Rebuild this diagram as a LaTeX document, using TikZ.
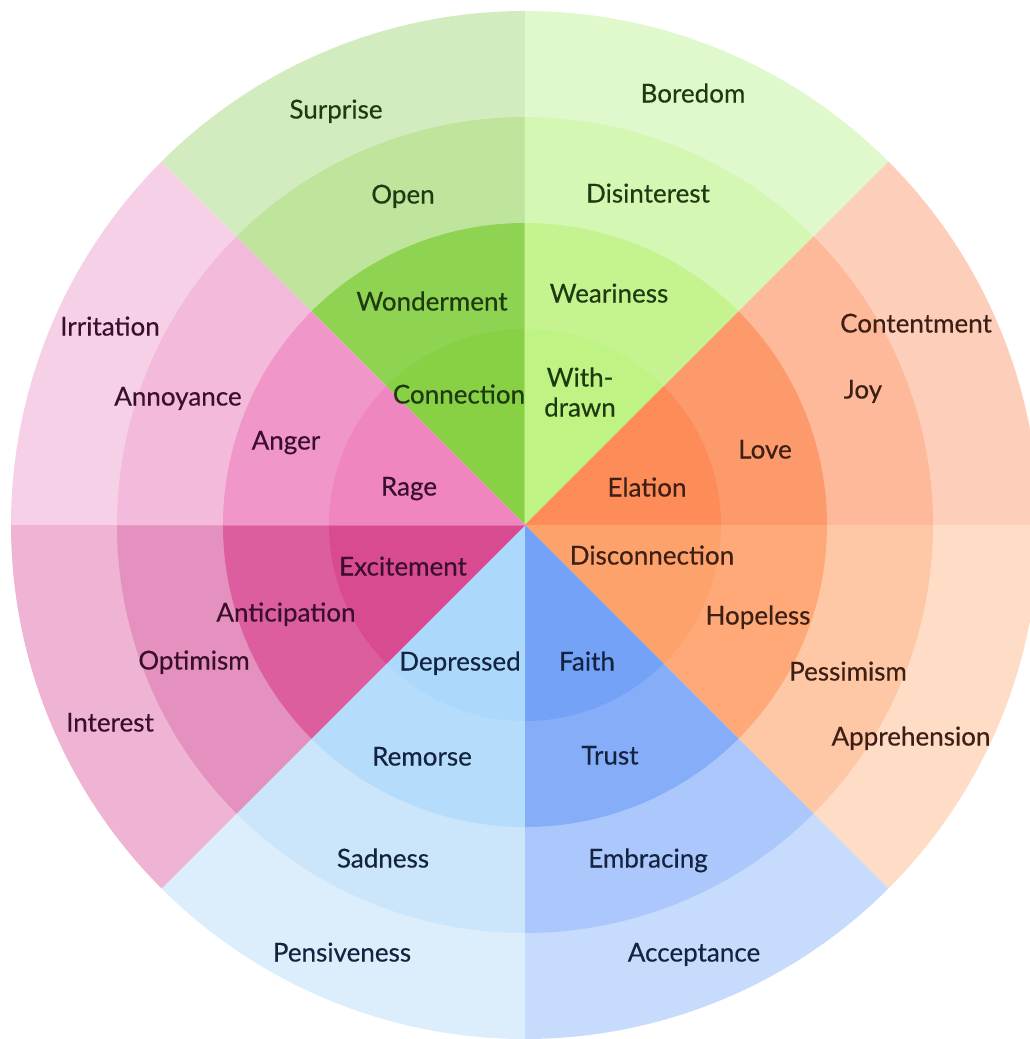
\documentclass[tikz,border=0pt]{standalone}
\usepackage{fontspec}
\setmainfont{Lato}[FakeBold=0.4]
\usetikzlibrary{calc}

%sector colours, 1 = inner ... 4 = outer
\definecolor{surp1}{HTML}{88D145}
\definecolor{surp2}{HTML}{8FD352}
\definecolor{surp3}{HTML}{BFE59C}
\definecolor{surp4}{HTML}{D3ECBF}
\definecolor{bore1}{HTML}{BFF485}
\definecolor{bore2}{HTML}{C5F38F}
\definecolor{bore3}{HTML}{D5F7B4}
\definecolor{bore4}{HTML}{E0F9CC}
\definecolor{cont1}{HTML}{FD8C58}
\definecolor{cont2}{HTML}{FD9A6B}
\definecolor{cont3}{HTML}{FDB99A}
\definecolor{cont4}{HTML}{FDCFBA}
\definecolor{appr1}{HTML}{FEA26C}
\definecolor{appr2}{HTML}{FEA977}
\definecolor{appr3}{HTML}{FEC8A6}
\definecolor{appr4}{HTML}{FEDCC6}
\definecolor{acce1}{HTML}{74A2F6}
\definecolor{acce2}{HTML}{86ADF8}
\definecolor{acce3}{HTML}{ABC7FB}
\definecolor{acce4}{HTML}{C7DBFC}
\definecolor{pens1}{HTML}{ABD8FB}
\definecolor{pens2}{HTML}{B5DDFB}
\definecolor{pens3}{HTML}{CBE6FB}
\definecolor{pens4}{HTML}{DCEDFC}
\definecolor{intr1}{HTML}{D84B91}
\definecolor{intr2}{HTML}{DC5E9E}
\definecolor{intr3}{HTML}{E591BF}
\definecolor{intr4}{HTML}{EFB3D3}
\definecolor{irri1}{HTML}{EF86BF}
\definecolor{irri2}{HTML}{F196C8}
\definecolor{irri3}{HTML}{F4BADB}
\definecolor{irri4}{HTML}{F6D0E6}
%text colours
\definecolor{txtgreen}{HTML}{1F3A10}
\definecolor{txtorange}{HTML}{3D1F14}
\definecolor{txtblue}{HTML}{142440}
\definecolor{txtpink}{HTML}{3A0F2E}

\tikzset{
	lbl/.style={font=\fontsize{26}{30}\selectfont, inner sep=0pt, anchor=mid, align=center, yshift=-8pt},
	glbl/.style={lbl, text=txtgreen},
	olbl/.style={lbl, text=txtorange},
	blbl/.style={lbl, text=txtblue},
	plbl/.style={lbl, text=txtpink}
}

\begin{document}
\begin{tikzpicture}[x=1pt,y=1pt]
	\useasboundingbox (-525,-514) rectangle (505,525);
	\clip (-525,-514) rectangle (505,525);
	\coordinate (c) at (0,0);

	%surprise wedge
	\fill[surp4] (c) -- (90:514pt) arc (90:135:514pt) -- cycle;
	\fill[surp3] (c) -- (90:408pt) arc (90:135:408pt) -- cycle;
	\fill[surp2] (c) -- (90:302pt) arc (90:135:302pt) -- cycle;
	\fill[surp1] (c) -- (90:196pt) arc (90:135:196pt) -- cycle;
	%boredom wedge
	\fill[bore4] (c) -- (45:514pt) arc (45:90:514pt) -- cycle;
	\fill[bore3] (c) -- (45:408pt) arc (45:90:408pt) -- cycle;
	\fill[bore2] (c) -- (45:302pt) arc (45:90:302pt) -- cycle;
	\fill[bore1] (c) -- (45:196pt) arc (45:90:196pt) -- cycle;
	%contentment wedge
	\fill[cont4] (c) -- (0:514pt) arc (0:45:514pt) -- cycle;
	\fill[cont3] (c) -- (0:408pt) arc (0:45:408pt) -- cycle;
	\fill[cont2] (c) -- (0:302pt) arc (0:45:302pt) -- cycle;
	\fill[cont1] (c) -- (0:196pt) arc (0:45:196pt) -- cycle;
	%apprehension wedge
	\fill[appr4] (c) -- (-45:514pt) arc (-45:0:514pt) -- cycle;
	\fill[appr3] (c) -- (-45:408pt) arc (-45:0:408pt) -- cycle;
	\fill[appr2] (c) -- (-45:302pt) arc (-45:0:302pt) -- cycle;
	\fill[appr1] (c) -- (-45:196pt) arc (-45:0:196pt) -- cycle;
	%acceptance wedge
	\fill[acce4] (c) -- (-90:514pt) arc (-90:-45:514pt) -- cycle;
	\fill[acce3] (c) -- (-90:408pt) arc (-90:-45:408pt) -- cycle;
	\fill[acce2] (c) -- (-90:302pt) arc (-90:-45:302pt) -- cycle;
	\fill[acce1] (c) -- (-90:196pt) arc (-90:-45:196pt) -- cycle;
	%pensiveness wedge
	\fill[pens4] (c) -- (-135:514pt) arc (-135:-90:514pt) -- cycle;
	\fill[pens3] (c) -- (-135:408pt) arc (-135:-90:408pt) -- cycle;
	\fill[pens2] (c) -- (-135:302pt) arc (-135:-90:302pt) -- cycle;
	\fill[pens1] (c) -- (-135:196pt) arc (-135:-90:196pt) -- cycle;
	%interest wedge
	\fill[intr4] (c) -- (180:514pt) arc (180:225:514pt) -- cycle;
	\fill[intr3] (c) -- (180:408pt) arc (180:225:408pt) -- cycle;
	\fill[intr2] (c) -- (180:302pt) arc (180:225:302pt) -- cycle;
	\fill[intr1] (c) -- (180:196pt) arc (180:225:196pt) -- cycle;
	%irritation wedge
	\fill[irri4] (c) -- (135:514pt) arc (135:180:514pt) -- cycle;
	\fill[irri3] (c) -- (135:408pt) arc (135:180:408pt) -- cycle;
	\fill[irri2] (c) -- (135:302pt) arc (135:180:302pt) -- cycle;
	\fill[irri1] (c) -- (135:196pt) arc (135:180:196pt) -- cycle;

	%labels, outer to inner
	\node[glbl] (surprise)   at (-189,417) {Surprise};
	\node[glbl] (open)       at (-122,332) {Open};
	\node[glbl] (wonder)     at (-93,225)  {Wonderment};
	\node[glbl] (connect)    at (-66,132)  {Connection};
	%
	\node[glbl] (boredom)    at (168,433)  {Boredom};
	\node[glbl] (disint)     at (123,333)  {Disinterest};
	\node[glbl] (weary)      at (84,233)   {Weariness};
	\node[glbl] (withdrawn)  at (55,119)   {With-\\drawn};
	%
	\node[olbl] (content)    at (391,203)  {Contentment};
	\node[olbl] (joy)        at (338,137)  {Joy};
	\node[olbl] (love)       at (240,77)   {Love};
	\node[olbl] (elation)    at (122,39)   {Elation};
	%
	\node[olbl] (apprehend)  at (386,-210) {Apprehension};
	\node[olbl] (pessimism)  at (323,-145) {Pessimism};
	\node[olbl] (hopeless)   at (233,-89)  {Hopeless};
	\node[olbl] (disconnect) at (127,-29)  {Disconnection};
	%
	\node[blbl] (accept)     at (169,-426) {Acceptance};
	\node[blbl] (embrace)    at (123,-332) {Embracing};
	\node[blbl] (trust)      at (85,-229)  {Trust};
	\node[blbl] (faith)      at (62,-135)  {Faith};
	%
	\node[blbl] (pensive)    at (-183,-426) {Pensiveness};
	\node[blbl] (sadness)    at (-142,-332) {Sadness};
	\node[blbl] (remorse)    at (-103,-230) {Remorse};
	\node[blbl] (depressed)  at (-65,-135)  {Depressed};
	%
	\node[plbl] (interest)   at (-415,-196) {Interest};
	\node[plbl] (optimism)   at (-331,-134) {Optimism};
	\node[plbl] (anticip)    at (-239,-86)  {Anticipation};
	\node[plbl] (excite)     at (-122,-40)  {Excitement};
	%
	\node[plbl] (irritation) at (-415,200) {Irritation};
	\node[plbl] (annoy)      at (-347,130) {Annoyance};
	\node[plbl] (anger)      at (-239,86)  {Anger};
	\node[plbl] (rage)       at (-116,40)  {Rage};
\end{tikzpicture}
\end{document}
